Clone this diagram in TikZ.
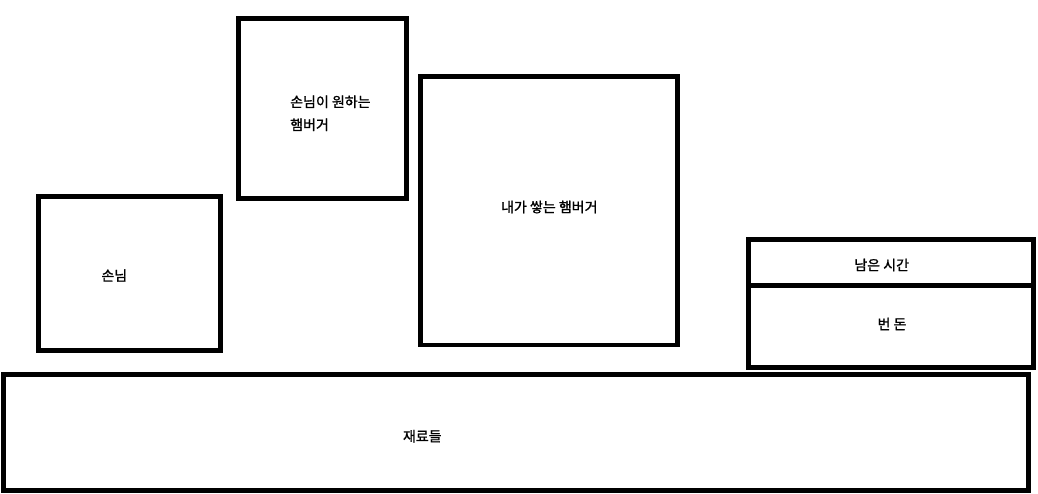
\documentclass[tikz,border=0pt]{standalone}
\usepackage{fontspec}
\newfontfamily\krfont[FakeBold=1.2]{Noto Sans CJK KR}
\begin{document}
\begin{tikzpicture}[x=1pt,y=-1pt,
  boxst/.style={draw=black, line width=4.7pt, rectangle, inner sep=0pt, fill=white},
  txt/.style={font=\krfont\fontsize{14}{23}\selectfont, inner sep=0pt, text=black}]
\useasboundingbox[fill=white] (0,0) rectangle (1038,494);
% boxes
\node[boxst, minimum width=182pt, minimum height=154pt] (guest) at (129.3,273.3) {};
\node[boxst, minimum width=168pt, minimum height=180pt] (want) at (322.5,108.5) {};
\node[boxst, minimum width=257pt, minimum height=268.3pt] (mine) at (549.2,210.85) {};
\node[boxst, minimum width=284.8pt, minimum height=46pt] (time) at (890.9,262.2) {};
\node[boxst, minimum width=284.8pt, minimum height=82.3pt] (money) at (890.9,326.35) {};
\node[boxst, minimum width=1025.2pt, minimum height=116pt] (ingr) at (516.1,432.5) {};
% texts
\node[txt] (tguest) at (114.3,275.5) {손님};
\node[txt, align=left, anchor=west] (twant) at (290,113.3) {손님이 원하는\\햄버거};
\node[txt] (tmine) at (549.3,207) {내가 쌓는 햄버거};
\node[txt] (ttime) at (881.7,265) {남은 시간};
\node[txt] (tmoney) at (892,324) {번 돈};
\node[txt] (tingr) at (422.3,436.2) {재료들};
\end{tikzpicture}
\end{document}
